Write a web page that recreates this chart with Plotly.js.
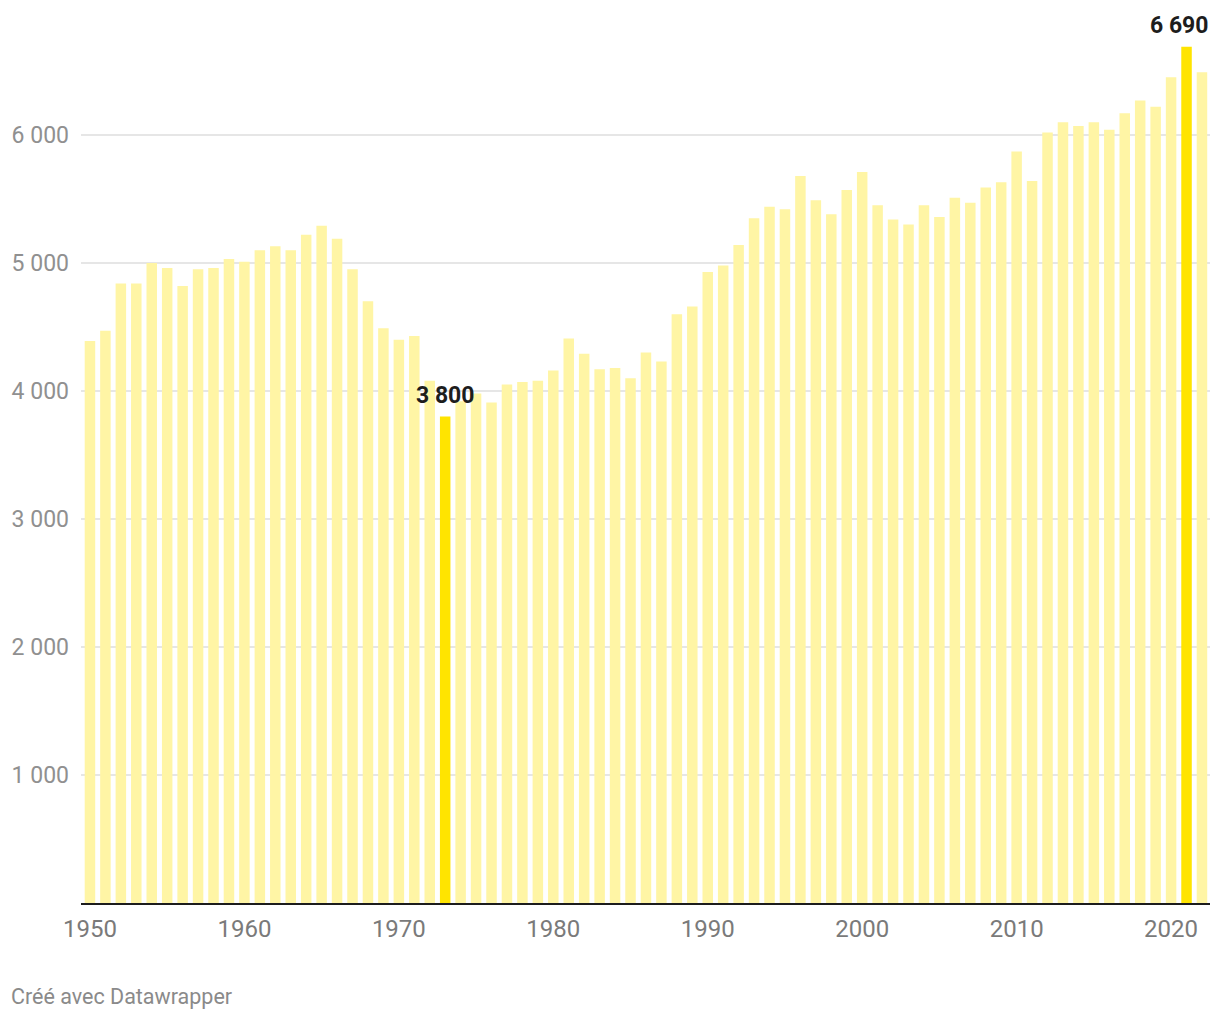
<!DOCTYPE html>
<html>
<head>
<meta charset="utf-8">
<script src="https://cdn.plot.ly/plotly-3.0.1.min.js"></script>
<style>
  html, body { margin: 0; padding: 0; background: #fff; }
  #chart { width: 1220px; height: 1020px; }
</style>
</head>
<body>
<div id="chart"></div>
<script>
// ---- Data ----
const years = [];
for (let y = 1950; y <= 2022; y++) years.push(y);

const values = [
  4390, 4470, 4840, 4840, 5000, 4960, 4820, 4950, 4960, 5030,
  5010, 5100, 5130, 5100, 5220, 5290, 5190, 4950, 4700, 4490,
  4400, 4430, 4080, 3800, 3920, 3980, 3910, 4050, 4070, 4080,
  4160, 4410, 4290, 4170, 4180, 4100, 4300, 4230, 4600, 4660,
  4930, 4980, 5140, 5350, 5440, 5420, 5680, 5490, 5380, 5570,
  5710, 5450, 5340, 5300, 5450, 5360, 5510, 5470, 5590, 5630,
  5870, 5640, 6020, 6100, 6070, 6100, 6040, 6170, 6270, 6220,
  6450, 6690, 6490
];

const highlightYears = [1973, 2021];
const highlightLabels = ['3 800', '6 690'];
const highlightXShift = [0, -7];

const yTickVals = [1000, 2000, 3000, 4000, 5000, 6000];
const yTickText = ['1 000', '2 000', '3 000', '4 000', '5 000', '6 000'];
const xTickVals = [1950, 1960, 1970, 1980, 1990, 2000, 2010, 2020];
const xTickText = ['1950', '1960', '1970', '1980', '1990', '2000', '2010', '2020'];

const footerText = 'Créé avec Datawrapper';

// ---- Styles ----
const LIGHT = '#fff5a5';
const STRONG = '#ffe400';
const colors = years.map(y => highlightYears.includes(y) ? STRONG : LIGHT);

const trace = {
  type: 'bar',
  x: years,
  y: values,
  marker: { color: colors, line: { width: 0 } },
  hoverinfo: 'x+y'
};

const annotations = highlightYears.map((yr, i) => ({
  x: yr,
  y: values[years.indexOf(yr)],
  xref: 'x', yref: 'y',
  text: '<b>' + highlightLabels[i] + '</b>',
  showarrow: false,
  xanchor: 'center', yanchor: 'middle',
  yshift: 21,
  xshift: highlightXShift[i],
  font: { family: 'Roboto, sans-serif', size: 23, color: '#1d1d1d' }
}));

annotations.push({
  xref: 'paper', yref: 'paper',
  x: -81 / 1129, y: (1020 - 117 - 997) / 883,
  xanchor: 'left', yanchor: 'middle',
  xshift: 9,
  text: footerText,
  showarrow: false,
  font: { family: 'Roboto, sans-serif', size: 21.5, color: '#8a8a8a' }
});

const layout = {
  width: 1220,
  height: 1020,
  margin: { l: 81, r: 10, t: 20, b: 117 },
  paper_bgcolor: '#ffffff',
  plot_bgcolor: '#ffffff',
  showlegend: false,
  bargap: 0.32,
  font: { family: 'Roboto, sans-serif' },
  xaxis: {
    range: [1949.42, 2022.52],
    tickvals: xTickVals,
    ticktext: xTickText,
    showgrid: false,
    zeroline: false,
    showline: true,
    linecolor: '#1d1d1d',
    linewidth: 2,
    ticks: '',
    ticklabelstandoff: 3,
    tickfont: { family: 'Roboto, sans-serif', size: 24, color: '#7a7a7a' },
    fixedrange: true
  },
  yaxis: {
    range: [0, 6898],
    tickvals: yTickVals,
    ticktext: yTickText,
    showgrid: true,
    gridcolor: '#e6e6e6',
    gridwidth: 2,
    zeroline: false,
    showline: false,
    ticks: '',
    ticklabelstandoff: 11,
    tickfont: { family: 'Roboto, sans-serif', size: 23, color: '#909090' },
    fixedrange: true
  },
  annotations: annotations
};

Plotly.newPlot('chart', [trace], layout, { displayModeBar: false, staticPlot: true });
</script>
</body>
</html>
